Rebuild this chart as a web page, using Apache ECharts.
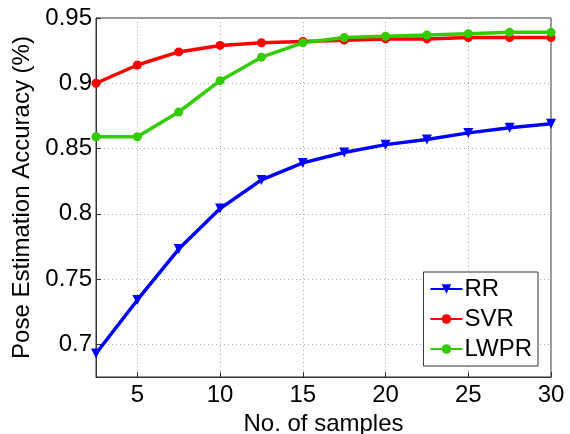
<!DOCTYPE html>
<html><head><meta charset="utf-8">
<script src="https://cdn.jsdelivr.net/npm/echarts@6/dist/echarts.min.js"></script>
<style>html,body{margin:0;padding:0;background:#fff}#c{width:570px;height:434px}</style>
</head><body><div id="c"></div>
<script>
const samples = [2.5, 5, 7.5, 10, 12.5, 15, 17.5, 20, 22.5, 25, 27.5, 30];
const rr   = [0.693, 0.734, 0.773, 0.804, 0.826, 0.839, 0.847, 0.853, 0.857, 0.862, 0.866, 0.869];
const svr  = [0.900, 0.914, 0.924, 0.929, 0.931, 0.932, 0.933, 0.934, 0.934, 0.935, 0.935, 0.935];
const lwpr = [0.859, 0.859, 0.878, 0.902, 0.920, 0.931, 0.935, 0.936, 0.937, 0.938, 0.939, 0.939];
const xTicks = [5, 10, 15, 20, 25, 30];
const yTicks = [0.7, 0.75, 0.8, 0.85, 0.9, 0.95];
const seriesNames = ['RR', 'SVR', 'LWPR'];

const font = 'Liberation Sans, Arial, sans-serif';
const chart = echarts.init(document.getElementById('c'));
const pair = (arr) => samples.map((x, i) => [x, arr[i]]);
function mk(name, data, color, symbol, size, rot) {
  return {
    name, type: 'line', data: pair(data), symbol, symbolSize: size, symbolRotate: rot,
    lineStyle: {color, width: 3.5}, itemStyle: {color}, z: 3
  };
}
chart.setOption({
  animation: false,
  grid: {left: 96, right: 19, top: 18, bottom: 57, show: true, borderColor: '#333', borderWidth: 1,
    containLabel: false, outerBoundsMode: 'none'},
  legend: {
    data: seriesNames, orient: 'vertical', right: 32, top: 272,
    backgroundColor: '#fff', borderColor: '#333', borderWidth: 1,
    padding: [5, 6, 5, 6], itemGap: 6, itemWidth: 32, itemHeight: 12,
    textStyle: {fontFamily: font, fontSize: 24, color: '#000', padding: [0, 0, 0, -3]}
  },
  xAxis: {
    type: 'value', min: 2.5, max: 30,
    name: 'No. of samples', nameLocation: 'middle', nameGap: 28,
    nameTextStyle: {fontFamily: font, fontSize: 24, color: '#000'},
    axisLine: {show: true, lineStyle: {color: '#333'}},
    axisTick: {show: true, inside: true, length: 5, customValues: xTicks, lineStyle: {color: '#333'}},
    axisLabel: {customValues: xTicks, fontFamily: font, fontSize: 24, color: '#000', margin: 6},
    splitLine: {show: true, lineStyle: {color: '#aaa', type: [1, 3], width: 1}}
  },
  yAxis: {
    type: 'value', min: 0.675, max: 0.95,
    name: 'Pose Estimation Accuracy (%)', nameLocation: 'middle', nameGap: 57, nameRotate: 90,
    nameTextStyle: {fontFamily: font, fontSize: 24, color: '#000'},
    axisLine: {show: true, lineStyle: {color: '#333'}},
    axisTick: {show: true, inside: true, length: 5, customValues: yTicks, lineStyle: {color: '#333'}},
    axisLabel: {customValues: yTicks, fontFamily: font, fontSize: 24, color: '#000', margin: 4,
      formatter: v => String(+v.toFixed(2))},
    splitLine: {show: true, lineStyle: {color: '#aaa', type: [1, 3], width: 1}}
  },
  series: [
    mk(seriesNames[0], rr, '#0000ff', 'triangle', 10, 180),
    mk(seriesNames[1], svr, '#ff0000', 'circle', 9, 0),
    mk(seriesNames[2], lwpr, '#33cc00', 'circle', 9, 0)
  ]
});
</script></body></html>
